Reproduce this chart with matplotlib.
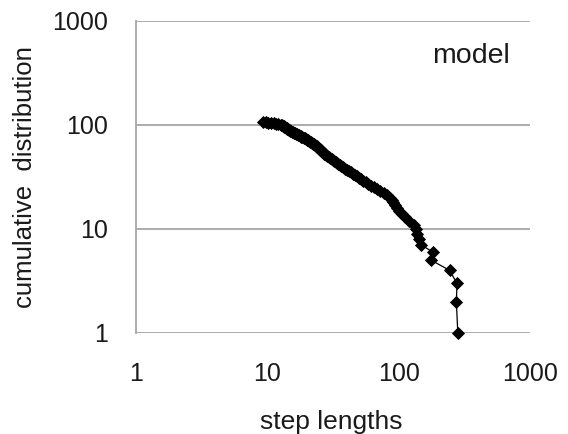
import matplotlib
matplotlib.use("Agg")
import matplotlib.pyplot as plt
from matplotlib.ticker import FixedLocator, FixedFormatter, NullLocator

plt.rcParams['font.family'] = ['Liberation Sans', 'DejaVu Sans']

# cumulative count (rank) and corresponding step length
cumulative = [107, 106, 105, 104, 103, 102, 101, 100,
              99, 98, 97, 96, 95, 94, 93, 92, 91, 90, 89, 88, 87, 86,
              85, 84, 83, 82, 81, 80, 79, 78, 77, 76, 75, 74, 73, 72, 71, 70, 69,
              68, 67, 66, 65, 64, 63, 62, 61, 60, 59, 58, 57, 56, 55, 54, 53, 52, 51, 50, 49,
              48, 47, 46, 45, 44, 43, 42, 41, 40, 39, 38, 37,
              36, 35, 34, 33, 32, 31, 30, 29, 28,
              27, 26, 25, 24, 23,
              22, 21, 20,
              19, 18, 17, 16,
              15, 14, 13,
              12, 11,
              10, 9, 8,
              7, 6, 5, 4, 3, 2, 1]
step_lengths = [9.3, 9.8, 10.2, 10.7, 11.2, 11.6, 12.1, 12.7,
                12.9, 13.1, 13.3, 13.4, 13.6, 13.8, 14.0, 14.1, 14.3, 14.5, 14.7, 14.9, 15.1, 15.4,
                15.7, 16.0, 16.3, 16.6, 16.9, 17.2, 17.5, 17.9, 18.2, 18.5, 18.9, 19.3, 19.6, 20.0, 20.4, 20.8, 21.3,
                21.6, 22.0, 22.3, 22.6, 22.9, 23.3, 23.7, 24.0, 24.4, 24.8, 25.1, 25.5, 25.9, 26.3, 26.8, 27.2, 27.6, 28.1, 28.7, 29.4,
                30.1, 30.9, 31.7, 32.4, 33.2, 34.0, 34.8, 35.7, 36.6, 37.6, 38.9, 40.5,
                41.9, 43.3, 44.8, 46.4, 48.0, 49.7, 51.6, 53.7, 56.0,
                58.5, 61.2, 64.5, 68.4, 72.6,
                77.3, 82.0, 86.5,
                88.6, 91.0, 93.5, 96.6,
                101, 106, 112,
                120, 130,
                136, 139, 142,
                149, 182, 177, 244, 278, 275, 282]

x_ticks = [1, 10, 100, 1000]
x_tick_labels = ["1", "10", "100", "1000"]
y_ticks = [1, 10, 100, 1000]
y_tick_labels = ["1", "10", "100", "1000"]

fig = plt.figure(figsize=(5.68, 4.34), dpi=100)
ax = fig.add_axes([136/568, 1-333/434, 394/568, 312.3/434])

ax.plot(step_lengths, cumulative, color='black', linewidth=0.9,
        marker='D', markersize=6, markerfacecolor='black', markeredgecolor='black',
        markeredgewidth=0.6, zorder=3, clip_on=False)

ax.set_xscale('log')
ax.set_yscale('log')
ax.set_xlim(1, 1000)
ax.set_ylim(1, 1000)

ax.xaxis.set_major_locator(FixedLocator(x_ticks))
ax.xaxis.set_major_formatter(FixedFormatter(x_tick_labels))
ax.yaxis.set_major_locator(FixedLocator(y_ticks))
ax.yaxis.set_major_formatter(FixedFormatter(y_tick_labels))
ax.xaxis.set_minor_locator(NullLocator())
ax.yaxis.set_minor_locator(NullLocator())

ax.tick_params(axis='both', length=0, labelsize=18, colors='#1a1a1a')
ax.tick_params(axis='x', pad=21)
ax.tick_params(axis='y', pad=20)

ax.grid(axis='y', color='#a6a6a6', linewidth=1.3)
ax.set_axisbelow(True)
for s in ['top', 'right', 'bottom']:
    ax.spines[s].set_visible(False)
ax.spines['left'].set_color('#a6a6a6')
ax.spines['left'].set_linewidth(1.3)

ax.set_xlabel("step lengths", fontsize=19, color='#1a1a1a')
ax.xaxis.set_label_coords(0.495, -0.2466)
ax.set_ylabel("cumulative  distribution", fontsize=18.5, color='#1a1a1a')
ax.yaxis.set_label_coords(-0.251, 0.5)

ax.text(0.85, 0.8646, "model", transform=ax.transAxes, ha='center', va='baseline',
        fontsize=20.5, color='#1a1a1a')

fig.savefig("out.png", dpi=100)
